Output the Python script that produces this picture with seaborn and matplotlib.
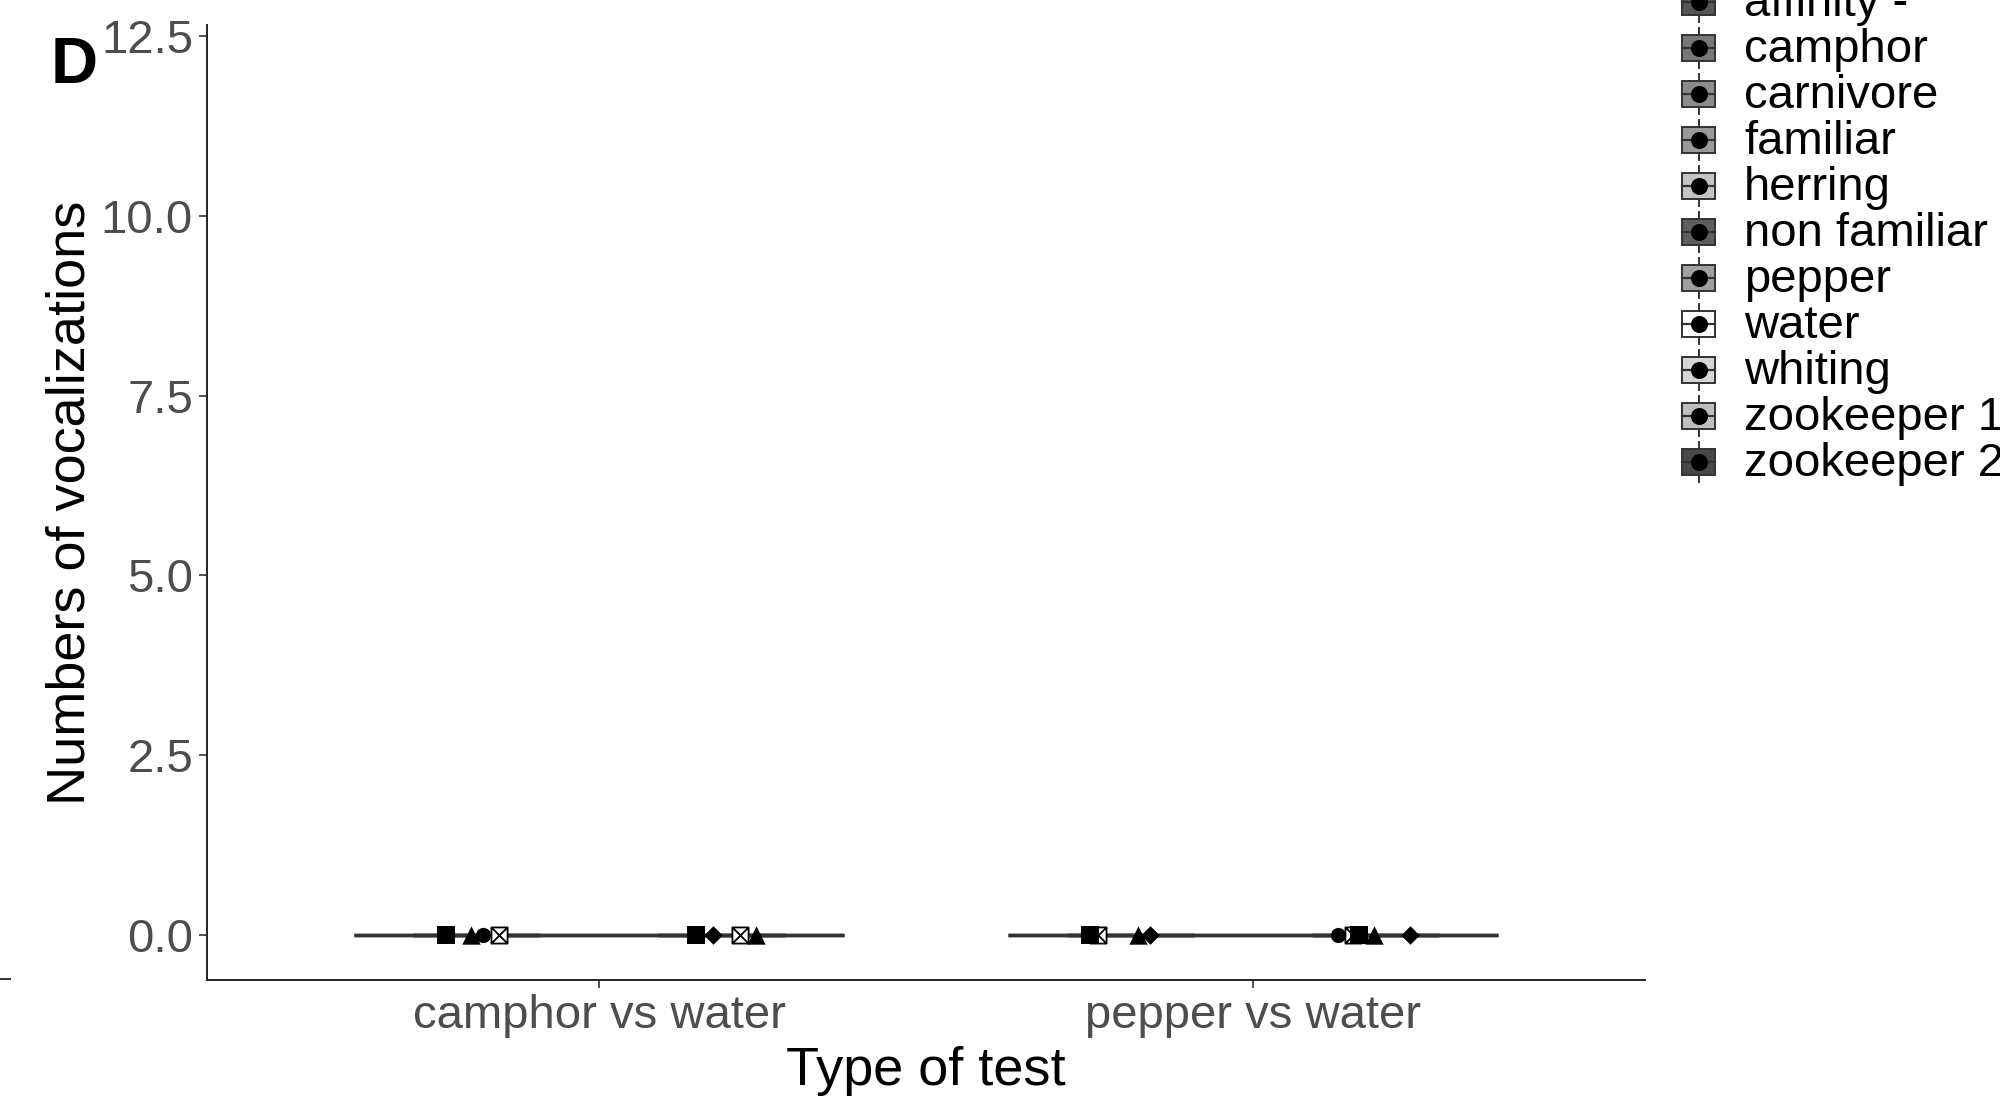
import matplotlib
matplotlib.use("Agg")
import matplotlib.pyplot as plt
from matplotlib.patches import Rectangle
from matplotlib.path import Path
import seaborn as sns
import pandas as pd

# --- data ---
tests = ["camphor vs water", "pepper vs water"]
stimuli = ["affinity -", "camphor", "carnivore", "familiar", "herring", "non familiar",
           "pepper", "water", "whiting", "zookeeper 1", "zookeeper 2"]
stimulus_greys = ["#555555", "#777777", "#8c8c8c", "#9a9a9a", "#c4c4c4", "#5e5e5e",
                  "#a0a0a0", "#ffffff", "#d6d6d6", "#bebebe", "#484848"]

# one row per observation (individual x stimulus), drawn in this order
obs_test = ["camphor vs water"] * 8 + ["pepper vs water"] * 9
obs_stimulus = (["camphor"] * 4 + ["water"] * 4
                + ["pepper"] * 4 + ["water"] * 5)
obs_individual = ["A", "C", "B", "E", "A", "D", "E", "C",
                  "E", "A", "C", "D", "E", "B", "A", "C", "D"]
obs_vocalizations = [0] * 17
# horizontal jitter (category units)
obs_jitter = [-0.235, -0.196, -0.177, -0.154, 0.148, 0.174, 0.216, 0.240,
              -0.237, -0.249, -0.176, -0.157, 0.154, 0.131, 0.162, 0.185, 0.240]

individual_markers = {"A": "s", "B": "o", "C": "^", "D": "D", "E": "boxx"}

df = pd.DataFrame({"test": obs_test, "stimulus": obs_stimulus,
                   "individual": obs_individual, "vocalizations": obs_vocalizations,
                   "jitter": obs_jitter})
df["x"] = df["test"].map({t: i for i, t in enumerate(tests)}) + df["jitter"]

palette = dict(zip(stimuli, stimulus_greys))

# --- figure ---
W, H = 2000, 1104
fig = plt.figure(figsize=(W / 100, H / 100), dpi=100)
plt.rcParams["font.family"] = ["Liberation Sans", "DejaVu Sans"]

def px_axes(left, top, right, bottom):
    return fig.add_axes([left / W, 1 - bottom / H, (right - left) / W, (bottom - top) / H])

ax = px_axes(207, 25, 1645, 980)

# boxplots, one test at a time so dodging only uses the two stimuli present
for test in tests:
    sub = df[df["test"] == test]
    pair = sorted(sub["stimulus"].unique())
    sns.boxplot(data=sub, x="test", y="vocalizations", hue="stimulus",
                order=tests, hue_order=pair, palette=palette, width=0.75,
                linecolor="#333333", linewidth=2.5, showfliers=False,
                legend=False, ax=ax)

# square with a cross (ggplot shape 7)
boxx = Path([(-1, -1), (1, -1), (1, 1), (-1, 1), (-1, -1), (-1, -1), (1, 1), (1, -1), (-1, 1)],
            [Path.MOVETO, Path.LINETO, Path.LINETO, Path.LINETO, Path.CLOSEPOLY,
             Path.MOVETO, Path.LINETO, Path.MOVETO, Path.LINETO])

sizes = {"s": 155, "o": 120, "^": 175, "D": 90, "boxx": 135}
for _, row in df.iterrows():
    m = individual_markers[row["individual"]]
    if m == "boxx":
        ax.scatter(row["x"], row["vocalizations"], marker=boxx, s=sizes[m],
                   facecolors="white", edgecolors="black", linewidths=1.3, zorder=5)
    else:
        ax.scatter(row["x"], row["vocalizations"], marker=m, s=sizes[m],
                   color="black", linewidths=0, zorder=5)

ax.set_xlim(-0.6, 1.6)
ax.set_ylim(-0.625, 12.653)
ax.set_yticks([0, 2.5, 5, 7.5, 10, 12.5])
ax.set_yticklabels(["0.0", "2.5", "5.0", "7.5", "10.0", "12.5"])
ax.set_xticks([0, 1])
ax.set_xticklabels(tests)
for s in ["top", "right"]:
    ax.spines[s].set_visible(False)
for s in ["left", "bottom"]:
    ax.spines[s].set_color("#222222")
    ax.spines[s].set_linewidth(1.4)
ax.tick_params(axis="both", colors="#333333", labelcolor="#4d4d4d",
               labelsize=34, length=6, width=1.2, pad=4)
ax.set_xlabel("Type of test", fontsize=39, color="black", labelpad=6)
ax.set_ylabel("Numbers of vocalizations", fontsize=39, color="black", labelpad=4)

fig.text(51 / W, 1 - 66 / H, "D", fontsize=47, fontweight="bold", va="center", ha="left")

# little stray tick at far left (from neighbouring panel)
fig.add_artist(plt.Line2D([0, 10 / W], [1 - 979 / H, 1 - 979 / H], color="#333333", lw=1.4))

# --- legend (ggplot style boxplot keys) ---
lax = px_axes(1660, 0, 2000, 500)
lax.set_xlim(1660, 2000)
lax.set_ylim(500, 0)
lax.axis("off")
for i, (name, col) in enumerate(zip(stimuli, stimulus_greys)):
    cy = 2 + 46 * i
    lax.plot([1699, 1699], [cy - 20, cy + 20], color="#333333", lw=1.4, zorder=1)
    lax.add_patch(Rectangle((1682, cy - 13), 33, 26, facecolor=col,
                            edgecolor="#333333", lw=1.4, zorder=2))
    lax.plot([1682, 1715], [cy, cy], color="#333333", lw=1.6, zorder=3)
    lax.scatter([1699], [cy], s=150, color="black", linewidths=0, zorder=4)
    lax.text(1744, cy + 2, name, fontsize=34, va="center", ha="left", color="black")

fig.savefig("out.png", dpi=100)
